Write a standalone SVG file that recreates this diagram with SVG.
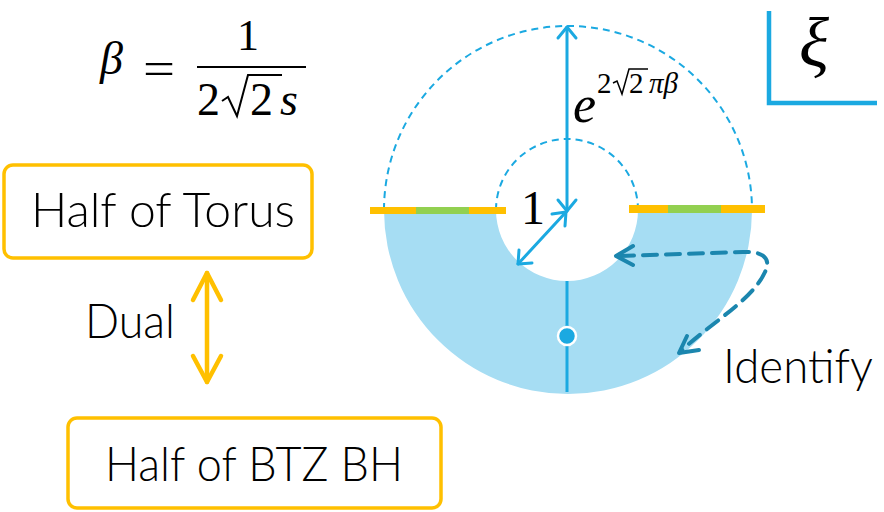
<svg xmlns="http://www.w3.org/2000/svg" width="884" height="512" viewBox="0 0 884 512">
<style>
.lbl{font-family:Lato,"Open Sans","Liberation Sans",sans-serif;font-weight:300;fill:#000}
.math{font-family:"Liberation Serif","DejaVu Serif",serif;fill:#000}
.box{fill:#fff;stroke:#FFC000;stroke-width:3.5}
.blue{stroke:#1BA9E1;fill:none}
.dash{stroke:#1BA9E1;fill:none;stroke-width:2;stroke-dasharray:7 5}
.rad{stroke:#000;fill:none;stroke-linejoin:miter}
</style>
<rect width="884" height="512" fill="#fff"/>
<g id="formula">
<text class="math" x="100" y="74" font-size="46" font-style="italic">β</text>
<text class="math" x="143" y="84" font-size="46" textLength="32" lengthAdjust="spacingAndGlyphs">=</text>
<line x1="197" y1="67" x2="306" y2="67" stroke="#000" stroke-width="2"/>
<text class="math" x="237" y="50" font-size="44">1</text>
<text class="math" x="197" y="115" font-size="46">2</text>
<path class="rad" d="M222,101 L228,97 L237,116 L248,75 L282,75" stroke-width="2"/>
<text class="math" x="250" y="115" font-size="46">2</text>
<text class="math" x="280" y="115" font-size="46" font-style="italic">s</text>
</g>
<g id="xi">
<path d="M769,11 V103 H877" class="blue" stroke-width="4.5"/>
<text class="math" x="799" y="66" font-size="70" font-style="italic">ξ</text>
</g>
<g id="annulus">
<path d="M384,210 A184,184 0 0 0 752,210 L638,210 A71,71 0 0 1 496,210 Z" fill="#A6DDF3"/>
<path d="M384,210 A184,184 0 0 1 752,210" class="dash"/>
<path d="M496,210 A71,71 0 0 1 638,210" class="dash"/>
<rect x="370" y="207" width="136" height="7" fill="#FFC000"/>
<rect x="416" y="207" width="53" height="7" fill="#92D050"/>
<rect x="629" y="205" width="136" height="8" fill="#FFC000"/>
<rect x="668" y="205" width="53" height="8" fill="#92D050"/>
<line x1="567" y1="281" x2="567" y2="392" class="blue" stroke-width="3"/>
<circle cx="567" cy="336" r="9" fill="#1BA9E1" stroke="#fff" stroke-width="2.5"/>
<text class="math" x="521" y="224" font-size="48">1</text>
<text class="math" x="573" y="122" font-size="52" font-style="italic">e</text>
<text class="math" x="597" y="93" font-size="29">2</text>
<path class="rad" d="M613,83 L617,81 L622,94 L629,69 L648,69" stroke-width="1.5"/>
<text class="math" x="629" y="93" font-size="29">2</text>
<text class="math" x="649" y="93" font-size="29" font-style="italic">πβ</text>
</g>
<g id="torus">
<rect x="4" y="165" width="308" height="93" rx="9" class="box"/>
<text class="lbl" x="31" y="227" font-size="48" textLength="264" lengthAdjust="spacingAndGlyphs">Half of Torus</text>
</g>
<g id="btz">
<rect x="68" y="418" width="373" height="90" rx="9" class="box"/>
<text class="lbl" x="105" y="481" font-size="48" textLength="298" lengthAdjust="spacingAndGlyphs">Half of BTZ BH</text>
</g>
<g id="dual-label"><text class="lbl" x="85" y="338" font-size="48" textLength="90" lengthAdjust="spacingAndGlyphs">Dual</text></g>
<g id="identify-label"><text class="lbl" x="723" y="383" font-size="48" textLength="150" lengthAdjust="spacingAndGlyphs">Identify</text></g>
<g id="connectors">
<g stroke="#FFC000" stroke-width="4.5" fill="none" stroke-linecap="round" stroke-linejoin="round">
<line x1="207" y1="273" x2="207" y2="382"/>
<polyline points="193,300 207,273 221,300"/>
<polyline points="193,356 207,382 221,356"/>
</g>
<g class="blue" stroke-width="3" stroke-linecap="round" stroke-linejoin="round">
<line x1="567" y1="27" x2="567" y2="211"/>
<polyline points="558,38 567,27 576,38"/>
<polyline points="558,200 567,211 576,200"/>
<line x1="566" y1="212" x2="518" y2="264"/>
<polyline points="552,214 566,212 565,226"/>
<polyline points="519,250 518,264 532,263"/>
</g>
<g stroke="#1B86AE" stroke-width="4" fill="none" stroke-linecap="round" stroke-linejoin="round">
<path d="M620,256 L743,252 C762,251 772,258 765,272 C752,300 715,320 682,350" stroke-dasharray="14 9"/>
<polyline points="633,246 616,256 633,265"/>
<polyline points="699,350 679,353 687,336"/>
</g>
</g>
</svg>
